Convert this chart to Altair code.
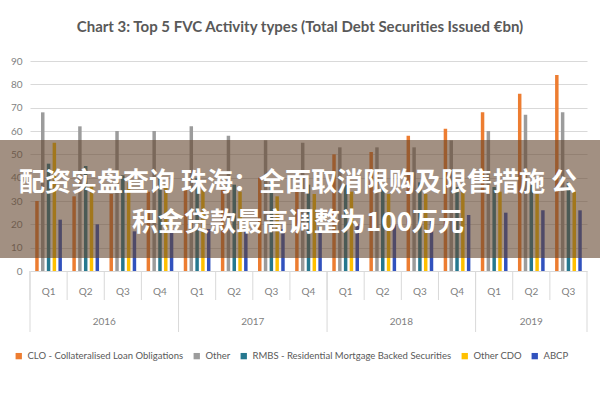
import altair as alt
import pandas as pd

# ---- data ----
periods = ["2016 Q1", "2016 Q2", "2016 Q3", "2016 Q4",
           "2017 Q1", "2017 Q2", "2017 Q3", "2017 Q4",
           "2018 Q1", "2018 Q2", "2018 Q3", "2018 Q4",
           "2019 Q1", "2019 Q2", "2019 Q3"]
quarter_labels = ["Q1", "Q2", "Q3", "Q4", "Q1", "Q2", "Q3", "Q4",
                  "Q1", "Q2", "Q3", "Q4", "Q1", "Q2", "Q3"]
years = ["2016", "2017", "2018", "2019"]

series = ["CLO - Collateralised Loan Obligations", "Other",
          "RMBS - Residential Mortgage Backed Securities", "Other CDO", "ABCP"]
colors = ["#ED7D31", "#9C9C9C", "#26788F", "#FFC000", "#3152BE"]

clo = [30, 32, 33, 34, 35, 35, 40, 35, 50, 51, 58, 61, 68, 76, 84]
other = [68, 62, 60, 60, 62, 58, 56, 55, 53, 53, 53, 56, 60, 67, 68]
rmbs = [46, 45, 41, 40, 40, 37, 38, 37, 37, 36, 38, 36, 36, 37, 38]
other_cdo = [55, 37, 38, 37, 35, 34, 32, 33, 34, 33, 33, 34, 34, 33, 34]
abcp = [22, 20, 17, 18, 18, 17, 18, 19, 20, 20, 22, 24, 25, 26, 26]

title_text = "Chart 3: Top 5 FVC Activity types (Total Debt Securities Issued €bn)"
banner_line1 = "配资实盘查询 珠海：全面取消限购及限售措施 公"
banner_line2 = "积金贷款最高调整为100万元"

# ---- tables ----
rows = []
for s, vals in zip(series, [clo, other, rmbs, other_cdo, abcp]):
    for p, v in zip(periods, vals):
        rows.append({"period": p, "series": s, "value": v})
df = pd.DataFrame(rows)

FONT = "Lato"
GRAY_TXT = "#7F7F7F"
SEP = "#D9D9D9"

xscale = alt.Scale(domain=periods, paddingInner=0, paddingOuter=0)

bars = alt.Chart(df).mark_bar().encode(
    x=alt.X("period:N", scale=xscale, axis=None),
    xOffset=alt.XOffset("series:N", sort=series,
                        scale=alt.Scale(domain=series, paddingInner=0.4, paddingOuter=0.9)),
    y=alt.Y("value:Q", scale=alt.Scale(domain=[0, 90], nice=False),
            axis=alt.Axis(values=list(range(0, 91, 10)), grid=True, gridColor=SEP,
                          domain=False, ticks=False, labelColor=GRAY_TXT,
                          labelFont=FONT, labelFontSize=10, labelPadding=8, title=None)),
    color=alt.Color("series:N", scale=alt.Scale(domain=series, range=colors),
                    legend=alt.Legend(orient="none", legendX=-16, legendY=290,
                                      direction="horizontal", columns=5, title=None,
                                      symbolType="square", symbolSize=40,
                                      labelFont=FONT, labelFontSize=9.5,
                                      labelColor="#595959", labelLimit=0,
                                      columnPadding=8, symbolStrokeWidth=0)),
)

qdf = pd.DataFrame({"period": periods, "q": quarter_labels})

q_sep = alt.Chart(qdf).mark_rule(color=SEP, strokeWidth=1).encode(
    x=alt.X("period:N", scale=xscale, axis=None, bandPosition=0),
    y=alt.value(210), y2=alt.value(239))

ydf = pd.DataFrame({"period": ["2016 Q1", "2017 Q1", "2018 Q1", "2019 Q1"]})
y_sep = alt.Chart(ydf).mark_rule(color=SEP, strokeWidth=1).encode(
    x=alt.X("period:N", scale=xscale, axis=None, bandPosition=0),
    y=alt.value(210), y2=alt.value(271))
end_sep = alt.Chart(pd.DataFrame({"period": [periods[-1]]})).mark_rule(color=SEP, strokeWidth=1).encode(
    x=alt.X("period:N", scale=xscale, axis=None, bandPosition=1),
    y=alt.value(210), y2=alt.value(271))

q_text = alt.Chart(qdf).mark_text(font=FONT, fontSize=10, color=GRAY_TXT).encode(
    x=alt.X("period:N", scale=xscale, axis=None, bandPosition=0.5),
    y=alt.value(231), text="q:N")

yr_df1 = pd.DataFrame({"period": ["2016 Q3", "2017 Q3", "2018 Q3"], "yr": years[:3]})
yr_text1 = alt.Chart(yr_df1).mark_text(font=FONT, fontSize=10, color=GRAY_TXT).encode(
    x=alt.X("period:N", scale=xscale, axis=None, bandPosition=0),
    y=alt.value(261), text="yr:N")
yr_df2 = pd.DataFrame({"period": ["2019 Q2"], "yr": years[3:]})
yr_text2 = alt.Chart(yr_df2).mark_text(font=FONT, fontSize=10, color=GRAY_TXT).encode(
    x=alt.X("period:N", scale=xscale, axis=None, bandPosition=0.5),
    y=alt.value(261), text="yr:N")

title = alt.Chart(pd.DataFrame({"t": [title_text]})).mark_text(
    font=FONT, fontSize=15, fontWeight="bold", color="#595959").encode(
    x=alt.value(270), y=alt.value(-34), text="t:N")

banner = alt.Chart(pd.DataFrame({"a": [1]})).mark_rect(color="#64462F", opacity=0.6).encode(
    x=alt.value(-30), x2=alt.value(570), y=alt.value(79), y2=alt.value(197))

bt = pd.DataFrame({"t": [banner_line1, banner_line2], "yy": [122, 162]})
banner_text = alt.Chart(bt).mark_text(font="Noto Sans CJK SC", fontSize=26,
                                      fontWeight="bold", color="white").encode(
    x=alt.value(268), y=alt.Y("yy:Q", scale=None), text="t:N")

chart = alt.layer(bars, q_sep, y_sep, end_sep, q_text, yr_text1, yr_text2, title,
                  banner, banner_text).properties(
    width=557, height=210,
    autosize=alt.AutoSizeParams(type="none"),
    padding={"left": 30, "top": 61, "right": 13, "bottom": 129},
).configure_view(stroke=None)

chart.save("out.html", embed_options={"renderer": "svg", "actions": False})
